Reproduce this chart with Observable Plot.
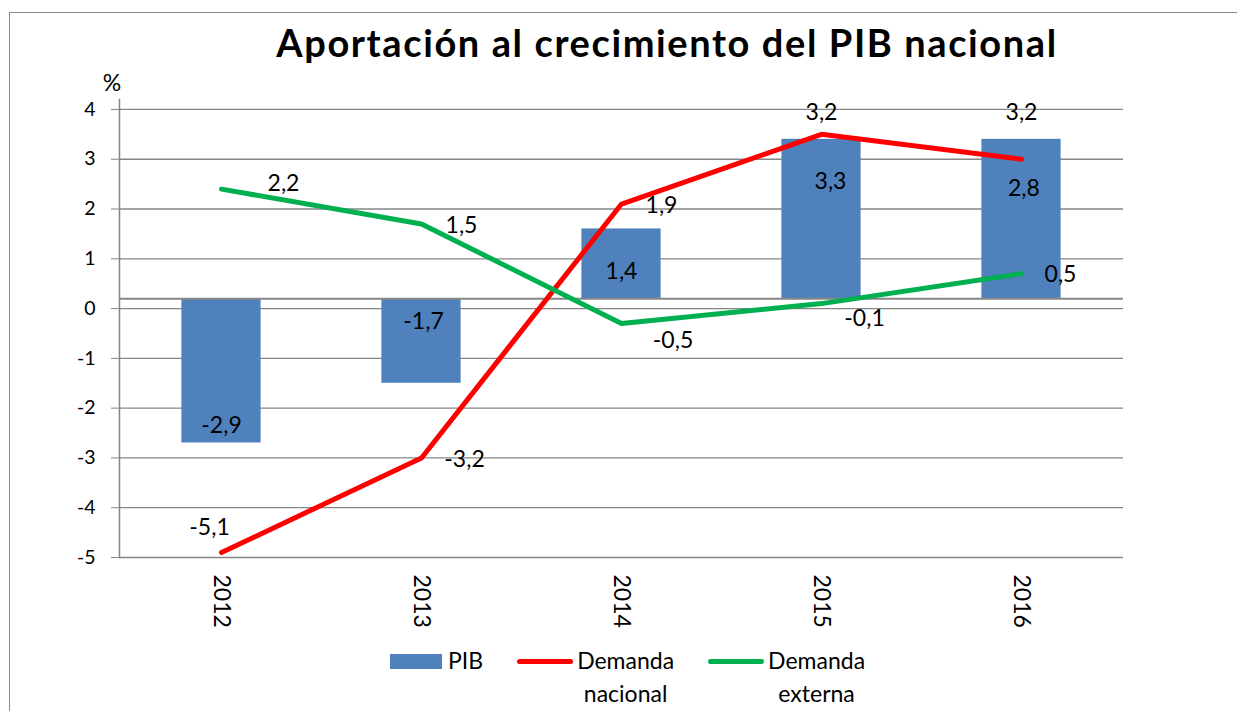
<!DOCTYPE html>
<html><head><meta charset="utf-8">
<script src="https://cdn.jsdelivr.net/npm/d3@7"></script>
<script src="https://cdn.jsdelivr.net/npm/@observablehq/plot@0.6"></script>
<style>
html,body{margin:0;padding:0;background:#fff;overflow:hidden;}
#wrap{position:relative;width:1237px;height:711px;overflow:hidden;font-family:Lato,"Noto Sans",sans-serif;color:#000;}
#border{position:absolute;left:9px;top:12px;width:1400px;height:900px;border-left:1.5px solid #8a8a8a;border-top:1.5px solid #8a8a8a;}
#chart{position:absolute;left:0;top:0;}
#title{position:absolute;left:667px;top:19.5px;transform:translateX(-50%);font-size:38px;font-weight:700;letter-spacing:1.6px;line-height:1.2;white-space:nowrap;}
#unit{position:absolute;left:112px;top:69px;transform:translateX(-50%);font-size:23px;line-height:1.2;}
#legend{position:absolute;left:390px;top:644px;display:flex;align-items:flex-start;font-size:23px;line-height:33px;}
#legend .lab{text-align:center;width:min-content;}
</style>
</head><body>
<div id="wrap">
  <div id="border"></div>
  <div id="chart"></div>
  <div id="title"></div>
  <div id="unit"></div>
  <div id="legend"></div>
</div>
<script>
const years = ["2012", "2013", "2014", "2015", "2016"];
const pib = [-2.9, -1.7, 1.4, 3.2, 3.2];
const demandaNacional = [-5.1, -3.2, 1.9, 3.3, 2.8];
const demandaExterna = [2.2, 1.5, -0.5, -0.1, 0.5];
const yTicks = [-5.2, -4.2, -3.2, -2.2, -1.2, -0.2, 0.8, 1.8, 2.8, 3.8];
const yTickLabels = ["-5", "-4", "-3", "-2", "-1", "0", "1", "2", "3", "4"];
const seriesNames = ["PIB", "Demanda nacional", "Demanda externa"];
const seriesColors = ["#4F81BD", "#FF0000", "#00B050"];
const titleText = "Aportación al crecimiento del PIB nacional";
const unitText = "%";

// label offsets (px) relative to the data point / bar end
const pibLabelOffsets = [[0, -17], [2, -62], [0, 43], [0, -27], [0, -27]];
const dnLabelOffsets = [[-12, -24.5], [43, 1.6], [40, 1.5], [9, 47.7], [2.4, 29.8]];
const deLabelOffsets = [[62, -5], [40, 1.6], [51.5, 17], [43, 15.4], [39, 0.8]];

const rows = years.map((year, i) => ({year, pib: pib[i], dn: demandaNacional[i], de: demandaExterna[i]}));
const labelMap = new Map(yTicks.map((t, i) => [t, yTickLabels[i]]));
const fmt = v => v.toFixed(1).replace(".", ",");
const gray = "#868686";

const labelMarks = (key, offsets) => rows.map((r, i) => Plot.text([r], {
  x: "year", y: key, text: d => fmt(d[key]),
  dx: offsets[i][0], dy: offsets[i][1], fontSize: 23, fill: "black"
}));

const chart = Plot.plot({
  width: 1237, height: 711,
  marginLeft: 119, marginRight: 114, marginTop: 99, marginBottom: 154,
  x: {type: "band", domain: years, padding: 0},
  y: {domain: [-5.2, 4.0]},
  style: {fontFamily: "Lato, 'Noto Sans', sans-serif", fontSize: "19px", background: "transparent", color: "black"},
  marks: [
    Plot.gridY({ticks: yTicks, stroke: gray, strokeOpacity: 1, strokeWidth: 1.3}),
    Plot.barY(rows, {x: "year", y: "pib", fill: seriesColors[0], insetLeft: 60.4, insetRight: 60.4}),
    Plot.ruleY([0], {stroke: gray, strokeWidth: 2}),
    Plot.frame({anchor: "left", stroke: gray, strokeWidth: 1.5}),
    Plot.axisY({ticks: yTicks, tickSize: 8, tickPadding: 16, tickFormat: d => labelMap.get(d), stroke: gray, fill: "black", fontSize: 19.5, label: null}),
    Plot.axisX({tickRotate: 90, tickSize: 0, tickPadding: 17, fontSize: 23, fill: "black", label: null}),
    Plot.line(rows, {x: "year", y: "dn", stroke: seriesColors[1], strokeWidth: 5, strokeLinecap: "round", strokeLinejoin: "round"}),
    Plot.line(rows, {x: "year", y: "de", stroke: seriesColors[2], strokeWidth: 5, strokeLinecap: "round", strokeLinejoin: "round"}),
    ...labelMarks("pib", pibLabelOffsets),
    ...labelMarks("dn", dnLabelOffsets),
    ...labelMarks("de", deLabelOffsets)
  ]
});
document.getElementById("chart").appendChild(chart);
document.getElementById("title").textContent = titleText;
document.getElementById("unit").textContent = unitText;

const legend = document.getElementById("legend");
seriesNames.forEach((name, i) => {
  const sw = document.createElement("div");
  if (i === 0) {
    sw.style.cssText = `width:52px;height:15px;background:${seriesColors[i]};margin-top:10px;margin-right:6px;`;
  } else {
    sw.style.cssText = `width:56px;height:5px;border-radius:2.5px;background:${seriesColors[i]};margin-top:14.5px;margin-right:4px;margin-left:34px;`;
  }
  const lab = document.createElement("div");
  lab.className = "lab";
  lab.textContent = name;
  legend.appendChild(sw);
  legend.appendChild(lab);
});
</script>
</body></html>
